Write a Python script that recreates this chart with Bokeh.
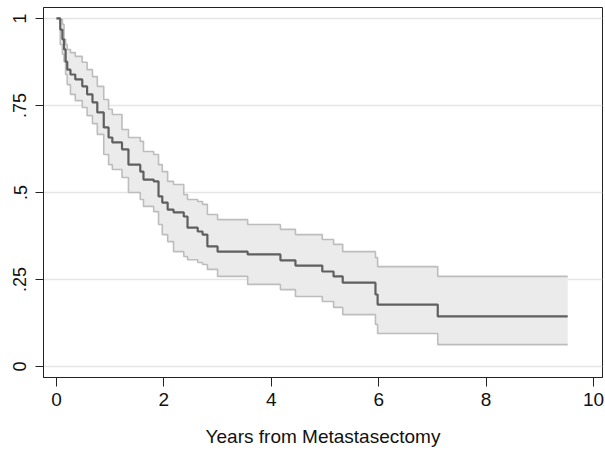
import math
from bokeh.plotting import figure
from bokeh.models import FixedTicker, Range1d
from bokeh.embed import file_html
from bokeh.resources import INLINE

# Kaplan-Meier estimate with 95% confidence band
times = [0, 0.07, 0.11, 0.14, 0.17, 0.20, 0.26, 0.35, 0.48, 0.57, 0.67, 0.76, 0.88,
         0.97, 1.04, 1.22, 1.34, 1.56, 1.62, 1.81, 1.90, 1.97, 2.07, 2.18, 2.37,
         2.44, 2.63, 2.72, 2.81, 3.00, 3.56, 4.17, 4.45, 4.95, 5.16, 5.33, 5.94,
         5.98, 7.10]
surv = [1.0, 0.968, 0.940, 0.911, 0.876, 0.853, 0.839, 0.825, 0.805, 0.782, 0.759,
        0.730, 0.687, 0.658, 0.644, 0.624, 0.580, 0.560, 0.537, 0.532, 0.489,
        0.471, 0.451, 0.443, 0.431, 0.399, 0.388, 0.379, 0.345, 0.330, 0.322,
        0.305, 0.290, 0.273, 0.259, 0.241, 0.207, 0.178, 0.144]
upper = [1.0, 0.997, 0.983, 0.940, 0.925, 0.911, 0.902, 0.891, 0.874, 0.853, 0.833,
         0.805, 0.767, 0.739, 0.724, 0.681, 0.658, 0.647, 0.618, 0.609, 0.580,
         0.560, 0.532, 0.523, 0.494, 0.480, 0.474, 0.466, 0.437, 0.422, 0.408,
         0.394, 0.379, 0.365, 0.351, 0.330, 0.313, 0.287, 0.259]
lower = [1.0, 0.925, 0.897, 0.876, 0.839, 0.810, 0.782, 0.764, 0.744, 0.721, 0.698,
         0.667, 0.609, 0.580, 0.566, 0.543, 0.500, 0.480, 0.460, 0.445, 0.408,
         0.379, 0.359, 0.330, 0.316, 0.307, 0.299, 0.293, 0.279, 0.259, 0.236,
         0.221, 0.201, 0.187, 0.170, 0.149, 0.121, 0.095, 0.063]
end_time = 9.52

x_ticks = [0, 2, 4, 6, 8, 10]
y_ticks = [0, 0.25, 0.5, 0.75, 1.0]
y_labels = ["0", ".25", ".5", ".75", "1"]

xs = times + [end_time]
ys = surv + [surv[-1]]
ups = upper + [upper[-1]]
los = lower + [lower[-1]]

FONT = "Liberation Sans"

p = figure(width=605, height=452, output_backend="svg", toolbar_location=None,
           x_range=Range1d(-0.242, 10.168), y_range=Range1d(-0.0315, 1.0315),
           min_border_left=43, min_border_right=3, min_border_top=7,
           min_border_bottom=75)

p.varea_step(x=xs, y1=los, y2=ups, step_mode="after", fill_color="#ebebeb")
p.step(xs, ups, mode="after", line_color="#bdbdbd", line_width=1.6)
p.step(xs, los, mode="after", line_color="#bdbdbd", line_width=1.6)
p.step(xs, ys, mode="after", line_color="#5f5f5f", line_width=2.2)

p.outline_line_color = "#222222"
p.outline_line_width = 1
p.xgrid.grid_line_color = None
p.ygrid.grid_line_color = "#e5e5e5"
p.ygrid.grid_line_width = 1.5

p.xaxis.ticker = FixedTicker(ticks=x_ticks)
p.yaxis.ticker = FixedTicker(ticks=y_ticks)
p.yaxis.major_label_overrides = {t: l for t, l in zip(y_ticks, y_labels)}
p.yaxis.major_label_orientation = "vertical"

for ax in (p.xaxis[0], p.yaxis[0]):
    ax.axis_line_color = "#222222"
    ax.major_tick_line_color = "#222222"
    ax.major_tick_in = 0
    ax.major_tick_out = 8
    ax.minor_tick_line_color = None
    ax.major_label_text_font = FONT
    ax.major_label_text_font_size = "19px"
    ax.major_label_text_color = "#111111"

p.xaxis.major_tick_out = 9
p.yaxis.major_label_text_font_size = "18px"
p.yaxis.major_label_standoff = 9
p.xaxis.major_label_standoff = 6

p.xaxis.axis_label = "Years from Metastasectomy"
p.xaxis.axis_label_text_font = FONT
p.xaxis.axis_label_text_font_size = "19px"
p.xaxis.axis_label_text_font_style = "normal"
p.xaxis.axis_label_text_color = "#111111"
p.xaxis.axis_label_standoff = 17

open("out.html", "w").write(file_html(p, INLINE))
